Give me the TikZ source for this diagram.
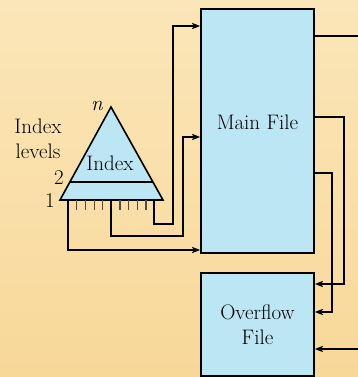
\documentclass[tikz,border=0pt]{standalone}
\usetikzlibrary{arrows.meta}
\definecolor{bgtop}{HTML}{FBE6B9}
\definecolor{bgbot}{HTML}{F8D899}
\definecolor{boxblue}{HTML}{BDE6F5}
\tikzset{
  filebox/.style={draw, line width=1.6bp, fill=boxblue, minimum width=113bp, inner sep=0pt},
  conn/.style={line width=1.6bp},
  arr/.style={conn, -{Stealth[length=8bp,width=6bp,inset=1.5bp]}},
  tick/.style={line width=1.2bp, draw=black!70},
  txt/.style={font=\fontsize{21bp}{25bp}\selectfont, inner sep=0pt, align=center}
}
\begin{document}
\begin{tikzpicture}[x=1bp,y=-1bp]
\shade[top color=bgtop, bottom color=bgbot] (0,0) rectangle (358,377);
\useasboundingbox (0,0) rectangle (358,377);
% boxes
\node[filebox, minimum height=244bp] (main) at (257.5,131) {};
\node[txt, anchor=base] (maintxt) at (257.5,129) {Main File};
\node[filebox, minimum height=103bp] (over) at (257.5,324.5) {};
\node[txt] (overtxt) at (257.5,325) {Overflow\\File};
% triangle
\filldraw[fill=boxblue, line width=1.6bp, line join=miter] (60,200) coordinate (bl) -- (111,107) coordinate (apex) -- (163,200) coordinate (br) -- cycle;
\draw[line width=1.6bp] (70,182) coordinate (l2a) -- (153,182) coordinate (l2b);
\node[txt, anchor=base] (idx) at (110,170) {Index};
\node[txt, anchor=base] (nlab) at (97,110) {\itshape n};
\node[txt, anchor=base] (two) at (59,184) {2};
\node[txt, anchor=base] (one) at (50,207) {1};
\node[txt, anchor=base] (lv1) at (38,133) {Index};
\node[txt, anchor=base] (lv2) at (38,158) {levels};
% ticks
\foreach \x in {76.7,85.7,94.3,102.7,120,128.3,137.3,146}
  \draw[tick] (\x,200) -- (\x,209.5);
% base points
\coordinate (b1) at (68,200);
\coordinate (b2) at (111,200);
\coordinate (b3) at (154,200);
% connectors from index
\draw[arr] (b3) -- (154,224) -- (173,224) -- (173,26) -- (main.west |- 0,26);
\draw[arr] (b2) -- (111,236) -- (183,236) -- (183,137) -- (main.west |- 0,137);
\draw[arr] (b1) -- (68,250) -- (main.west |- 0,250);
% right side
\coordinate (outr) at (358,36);
\coordinate (inr) at (358,349);
\draw[conn] (main.east |- 0,36) -- (outr);
\draw[arr] (main.east |- 0,117) -- (344,117) -- (344,284) -- (over.east |- 0,284);
\draw[arr] (main.east |- 0,173) -- (332,173) -- (332,312) -- (over.east |- 0,312);
\draw[arr] (inr) -- (over.east |- 0,349);
\end{tikzpicture}
\end{document}
